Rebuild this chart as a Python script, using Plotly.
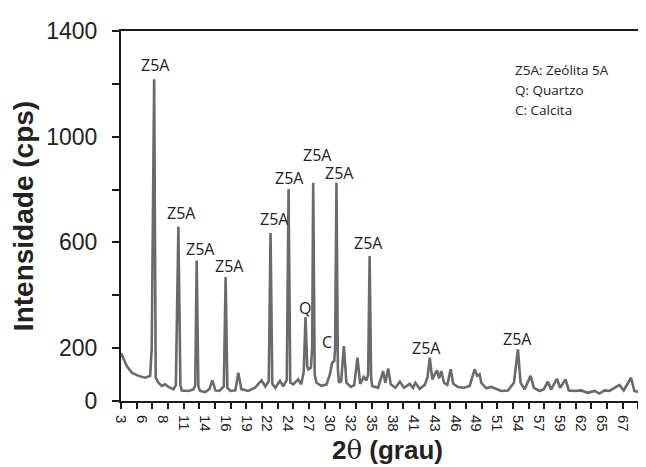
import plotly.graph_objects as go

# ---- data ----
two_theta = [3.00, 3.74, 4.38, 5.23, 6.08, 6.72, 6.92, 7.23, 7.43, 7.78, 8.20, 8.63, 9.05, 9.69,
             10.00, 10.32, 10.58, 10.75, 11.60, 12.24, 12.47, 12.66, 12.87, 13.09, 13.73, 14.27,
             14.66, 15.04, 15.55, 16.12, 16.35, 16.57, 16.95, 17.59, 17.97, 18.35, 19.24, 20.10,
             20.52, 20.94, 21.41, 21.85, 22.08, 22.30, 22.68, 23.28, 23.70, 24.15, 24.38, 24.59,
             24.97, 25.61, 25.99, 26.31, 26.54, 26.76, 26.89, 27.23, 27.39, 27.52, 27.71, 27.94,
             28.58, 29.22, 29.65, 29.94, 30.20, 30.32, 30.49, 30.67, 30.80, 31.09, 31.43, 31.76,
             32.32, 32.75, 33.17, 33.51, 33.98, 34.31, 34.53, 34.72, 34.91, 35.04, 35.80, 36.44,
             36.73, 37.08, 37.42, 38.01, 38.57, 39.11, 39.84, 40.26, 40.55, 41.11, 41.75, 42.11,
             42.39, 42.72, 43.03, 43.32, 43.57, 43.87, 44.21, 44.63, 45.06, 45.39, 45.99, 46.76,
             47.48, 48.12, 48.45, 48.76, 48.96, 49.60, 50.24, 50.87, 51.51, 52.36, 53.13, 53.64,
             53.98, 54.49, 55.25, 55.68, 56.40, 56.95, 57.46, 57.88, 58.61, 59.03, 59.71, 60.13,
             60.86, 61.70, 62.55, 63.41, 64.04, 64.68, 65.32, 65.96, 66.59, 67.14, 68.07, 68.50,
             69.34, 69.98, 70.54, 70.96]
intensity = [182, 132, 107, 95, 88, 95, 202, 1217, 88, 69, 57, 63, 53, 44,
             60, 659, 60, 40, 38, 44, 60, 532, 55, 38, 34, 45,
             78, 40, 38, 55, 469, 50, 38, 40, 107, 45, 38, 50,
             65, 78, 55, 75, 636, 65, 50, 76, 55, 80, 802, 70,
             63, 82, 63, 110, 318, 130, 120, 126, 200, 826, 100, 69,
             57, 63, 101, 145, 151, 200, 826, 120, 69, 75, 208, 69,
             53, 60, 164, 65, 91, 78, 100, 549, 90, 57, 50, 113,
             69, 123, 63, 50, 73, 50, 65, 50, 69, 46, 61, 90,
             164, 82, 101, 116, 86, 113, 69, 61, 120, 65, 53, 50,
             57, 120, 95, 101, 69, 48, 53, 44, 38, 40, 69, 195,
             69, 44, 95, 50, 38, 45, 73, 44, 84, 50, 82, 40,
             38, 40, 31, 38, 28, 40, 38, 50, 61, 40, 88, 38,
             31, 44, 107, 57]

# peak labels
peak_label_text = ["Z5A", "Z5A", "Z5A", "Z5A", "Z5A", "Z5A", "Z5A", "Z5A", "Z5A", "Q", "C", "Z5A", "Z5A"]
peak_label_x = [7.36, 10.75, 13.09, 16.82, 22.52, 24.55, 28.03, 30.92, 34.62, 26.46, 29.31, 41.96, 53.64]
peak_label_y = [1271, 710, 576, 511, 690, 845, 929, 864, 599, 353, 223, 199, 233]

key_lines = ["Z5A: Zeólita 5A", "Q: Quartzo", "C: Calcita"]

x_tick_vals = [3 + k * 8 / 3 for k in range(25)]
x_tick_text = ["3", "6", "8", "11", "14", "16", "19", "22", "24", "27", "30", "32", "35",
               "38", "41", "43", "46", "49", "51", "54", "57", "59", "62", "65", "67"]
x_mark_vals = list(range(3, 72, 2))
y_tick_vals = [0, 200, 400, 600, 800, 1000, 1200, 1400]
y_tick_text = ["0", "200", "", "600", "", "1000", "", "1400"]

AX = "#1a1a1a"
fig = go.Figure()
fig.add_trace(go.Scatter(x=two_theta, y=intensity, mode="lines",
                         line=dict(color="#6a6a6a", width=2.6), showlegend=False,
                         hoverinfo="skip"))
# carrier for the tick-mark axis (no visible marks)
fig.add_trace(go.Scatter(x=[3], y=[None], xaxis="x2", mode="lines", showlegend=False,
                         hoverinfo="skip"))

for t, x, y in zip(peak_label_text, peak_label_x, peak_label_y):
    fig.add_annotation(x=x, y=y, xref="x", yref="y", text=t, showarrow=False,
                       font=dict(family="Open Sans", size=16, color="#222"),
                       xanchor="center", yanchor="middle")

L, R, T, B = 113, 646, 23, 393.5
for i, line in enumerate(key_lines):
    fig.add_annotation(x=(505 - L) / (R - L), y=(B - (61.7 + 20 * i)) / (B - T),
                       xref="x domain", yref="y domain",
                       text=line, showarrow=False,
                       font=dict(family="Open Sans", size=13.5, color="#222"),
                       xanchor="left", yanchor="middle")

fig.update_layout(
    width=646, height=467,
    margin=dict(l=L, r=646 - R, t=T, b=467 - B),
    paper_bgcolor="white", plot_bgcolor="white",
    font=dict(family="Liberation Sans, Arial", color="#222"),
    xaxis=dict(range=[3, 71], tickvals=x_tick_vals, ticktext=x_tick_text,
               tickangle=90, ticks="", showgrid=False, zeroline=False,
               showline=True, linecolor=AX, linewidth=2, mirror=True,
               tickfont=dict(size=15, color="#222"), ticklabelstandoff=9,
               title=dict(text="<b>2</b><span style='font-family:DejaVu Serif'>θ</span><b> (grau)</b>",
                          font=dict(size=26, color="#222"), standoff=10)),
    xaxis2=dict(range=[3, 71], overlaying="x", anchor="y", side="bottom",
                tickvals=x_mark_vals, ticks="outside", ticklen=7, tickwidth=2,
                tickcolor=AX, showticklabels=False, showgrid=False, zeroline=False,
                showline=False),
    yaxis=dict(range=[0, 1400], tickvals=y_tick_vals, ticktext=y_tick_text,
               ticks="outside", ticklen=7, tickwidth=2, tickcolor=AX,
               showgrid=False, zeroline=False, showline=True, linecolor=AX, linewidth=2,
               tickfont=dict(size=23, color="#222"), ticklabelstandoff=10,
               title=dict(text="<b>Intensidade (cps)</b>", font=dict(size=28, color="#222"),
                          standoff=8)),
)

fig.write_html("out.html")
